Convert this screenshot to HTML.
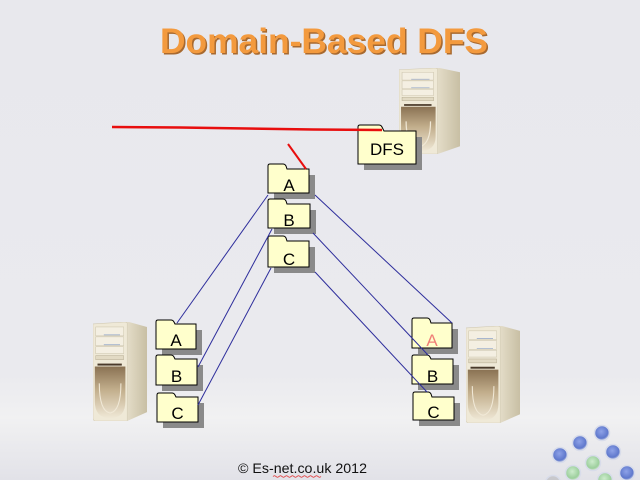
<!DOCTYPE html>
<html>
<head>
<meta charset="utf-8">
<style>
  html, body { margin: 0; padding: 0; width: 640px; height: 480px; overflow: hidden; background: #e9e9ee; }
  svg { display: block; }
  text { font-family: "Liberation Sans", Arial, sans-serif; }
</style>
</head>
<body>
<svg width="640" height="480" viewBox="0 0 640 480" xmlns="http://www.w3.org/2000/svg">
  <defs>
    <linearGradient id="bg" x1="0" y1="0" x2="0" y2="1">
      <stop offset="0" stop-color="#e8e8ed"/>
      <stop offset="0.78" stop-color="#eaeaee"/>
      <stop offset="0.87" stop-color="#f1f1f2"/>
      <stop offset="1" stop-color="#e2e2e8"/>
    </linearGradient>
    <linearGradient id="side" x1="0" y1="0" x2="1" y2="0">
      <stop offset="0" stop-color="#e6dfcb"/>
      <stop offset="1" stop-color="#c8bfa4"/>
    </linearGradient>
    <linearGradient id="panel" x1="0" y1="0" x2="0" y2="1">
      <stop offset="0" stop-color="#8a7253"/>
      <stop offset="0.45" stop-color="#c2ae8c"/>
      <stop offset="1" stop-color="#efe8d6"/>
    </linearGradient>
    <radialGradient id="blue" cx="0.45" cy="0.4" r="0.6">
      <stop offset="0" stop-color="#8ea2e8"/>
      <stop offset="0.75" stop-color="#5f78cc"/>
      <stop offset="1" stop-color="#c9d0e6"/>
    </radialGradient>
    <radialGradient id="green" cx="0.45" cy="0.4" r="0.6">
      <stop offset="0" stop-color="#cdeccd"/>
      <stop offset="0.75" stop-color="#9ccf9c"/>
      <stop offset="1" stop-color="#dbe8db"/>
    </radialGradient>
    <symbol id="server" viewBox="0 0 60 100" preserveAspectRatio="none">
      <polygon points="36,0 40,0 60,5 60,91 38,100" fill="url(#side)"/>
      <path d="M0,2 L36,0 L38,1 L38,100 L2,100 Q0,99 0,97 Z" fill="#efe9d7" stroke="#d2cab3" stroke-width="0.6"/>
      <rect x="3" y="5" width="31" height="9" fill="#f4efe2" stroke="#c8c0a8" stroke-width="0.5"/>
      <rect x="3" y="15" width="31" height="9" fill="#f4efe2" stroke="#c8c0a8" stroke-width="0.5"/>
      <rect x="3" y="25" width="31" height="7" fill="#f4efe2" stroke="#c8c0a8" stroke-width="0.5"/>
      <line x1="12" y1="13" x2="30" y2="13" stroke="#8ea3c8" stroke-width="0.7"/>
      <line x1="12" y1="23" x2="30" y2="23" stroke="#8ea3c8" stroke-width="0.7"/>
      <rect x="3" y="34" width="31" height="4" fill="#e2dac4" stroke="#b4aa90" stroke-width="0.5"/>
      <rect x="5" y="42" width="27" height="2" fill="#4a3a2a"/>
      <path d="M2,45 L36,45 L36,80 Q36,97 19,97 Q2,97 2,80 Z" fill="url(#panel)"/>
      <path d="M7,62 Q7,90 19,92 Q31,90 31,62" fill="none" stroke="#f0e8d6" stroke-width="1.2"/>
    </symbol>
  </defs>

  <rect x="0" y="0" width="640" height="480" fill="url(#bg)"/>

  <!-- Title -->
  <text x="161.5" y="54.5" font-size="35" font-weight="bold" fill="#a8692f" textLength="328" lengthAdjust="spacingAndGlyphs">Domain-Based DFS</text>
  <text x="160" y="53" font-size="35" font-weight="bold" fill="#f39a3e" textLength="328" lengthAdjust="spacingAndGlyphs">Domain-Based DFS</text>

  <!-- Servers -->
  <use href="#server" x="399" y="68" width="61" height="86"/>
  <use href="#server" x="93" y="322" width="54" height="99"/>
  <use href="#server" x="466" y="326" width="54" height="97"/>

  <!-- DFS folder -->
  <rect x="364" y="137" width="58" height="33" fill="#8a8a8a"/>
  <path d="M358,164 L358,127 Q358,125 360,125 L379,125 Q381,125 382,127 L384,131 L416,131 L416,164 Z" fill="#ffffcc" stroke="#000" stroke-width="1"/>
  <text x="387" y="155" font-size="17" text-anchor="middle" fill="#000">DFS</text>

  <!-- Central folders -->
  <rect x="274" y="175" width="41" height="24" fill="#8a8a8a"/>
  <path d="M268,193 L268,166 Q268,164 270,164 L283,164 Q285,164 286,166 L287,169 L309,169 L309,193 Z" fill="#ffffcc" stroke="#000" stroke-width="1"/>
  <text x="289" y="191" font-size="17" text-anchor="middle" fill="#000">A</text>

  <rect x="274" y="210" width="42" height="24" fill="#8a8a8a"/>
  <path d="M268,228 L268,201 Q268,199 270,199 L283,199 Q285,199 286,201 L287,204 L310,204 L310,228 Z" fill="#ffffcc" stroke="#000" stroke-width="1"/>
  <text x="289" y="226" font-size="17" text-anchor="middle" fill="#000">B</text>

  <rect x="274" y="247" width="41" height="26" fill="#8a8a8a"/>
  <path d="M268,267 L268,238 Q268,236 270,236 L283,236 Q285,236 286,238 L287,241 L309,241 L309,267 Z" fill="#ffffcc" stroke="#000" stroke-width="1"/>
  <text x="289" y="265" font-size="17" text-anchor="middle" fill="#000">C</text>

  <!-- Left folders -->
  <rect x="162" y="330" width="40" height="25" fill="#8a8a8a"/>
  <path d="M156,349 L156,322 Q156,320 158,320 L171,320 Q173,320 174,322 L175,324 L196,324 L196,349 Z" fill="#ffffcc" stroke="#000" stroke-width="1"/>
  <text x="176" y="346" font-size="17" text-anchor="middle" fill="#000">A</text>

  <rect x="162" y="365" width="41" height="26" fill="#8a8a8a"/>
  <path d="M156,385 L156,357 Q156,355 158,355 L171,355 Q173,355 174,357 L175,359 L197,359 L197,385 Z" fill="#ffffcc" stroke="#000" stroke-width="1"/>
  <text x="176.5" y="382" font-size="17" text-anchor="middle" fill="#000">B</text>

  <rect x="163" y="403" width="41" height="25" fill="#8a8a8a"/>
  <path d="M157,422 L157,395 Q157,393 159,393 L172,393 Q174,393 175,395 L176,397 L198,397 L198,422 Z" fill="#ffffcc" stroke="#000" stroke-width="1"/>
  <text x="177.5" y="419" font-size="17" text-anchor="middle" fill="#000">C</text>

  <!-- Right folders -->
  <rect x="418" y="329" width="40" height="25" fill="#8a8a8a"/>
  <path d="M412,348 L412,320 Q412,318 414,318 L427,318 Q429,318 430,320 L431,323 L452,323 L452,348 Z" fill="#ffffcc" stroke="#000" stroke-width="1"/>
  <text x="432" y="346" font-size="17" text-anchor="middle" fill="#f08078">A</text>

  <rect x="418" y="365" width="41" height="25" fill="#8a8a8a"/>
  <path d="M412,384 L412,357 Q412,355 414,355 L427,355 Q429,355 430,357 L431,359 L453,359 L453,384 Z" fill="#ffffcc" stroke="#000" stroke-width="1"/>
  <text x="432.5" y="382" font-size="17" text-anchor="middle" fill="#000">B</text>

  <rect x="419" y="403" width="41" height="23" fill="#8a8a8a"/>
  <path d="M413,420 L413,394 Q413,392 415,392 L428,392 Q430,392 431,394 L432,397 L454,397 L454,420 Z" fill="#ffffcc" stroke="#000" stroke-width="1"/>
  <text x="433.5" y="418" font-size="17" text-anchor="middle" fill="#000">C</text>

  <!-- Blue connectors -->
  <g stroke="#2e2e9c" stroke-width="1" fill="none">
    <line x1="268" y1="195" x2="177" y2="323"/>
    <line x1="272" y1="229" x2="198" y2="367"/>
    <line x1="271" y1="268" x2="198" y2="405"/>
    <line x1="315" y1="195" x2="452" y2="323"/>
    <line x1="313" y1="233" x2="428" y2="355"/>
    <line x1="315" y1="272" x2="427" y2="392"/>
  </g>

  <!-- Red lines -->
  <polyline points="112,127 180,127.5 247,128.5 313,129.5 382,130" fill="none" stroke="#e80e0e" stroke-width="2.5"/>
  <line x1="288" y1="144" x2="306" y2="169" stroke="#e80e0e" stroke-width="2"/>

  <!-- Logo bubbles -->
  <g stroke="#d8dcea" stroke-width="1.5">
    <circle cx="602" cy="433" r="7.5" fill="url(#blue)"/>
    <circle cx="580" cy="443" r="7.5" fill="url(#blue)"/>
    <circle cx="613" cy="452" r="7.5" fill="url(#blue)"/>
    <circle cx="560" cy="455" r="7.5" fill="url(#blue)"/>
    <circle cx="593" cy="463" r="7.5" fill="url(#green)"/>
    <circle cx="627" cy="473" r="7.5" fill="url(#blue)"/>
    <circle cx="573" cy="473" r="7.5" fill="url(#green)"/>
    <circle cx="605" cy="480" r="7.5" fill="url(#green)"/>
    <circle cx="553" cy="483" r="7.5" fill="#c8c8cc"/>
  </g>

  <!-- Footer -->
  <text x="238" y="473" font-size="14" fill="#111" textLength="129" lengthAdjust="spacingAndGlyphs">© Es-net.co.uk 2012</text>
  <path d="M273,476.5 q1.5,-1.5 3,0 t3,0 t3,0 t3,0 t3,0 t3,0 t3,0 t3,0 t3,0 t3,0 t3,0 t3,0 t3,0 t3,0 t3,0 t3,0" fill="none" stroke="#e02020" stroke-width="0.8"/>
</svg>
</body>
</html>
